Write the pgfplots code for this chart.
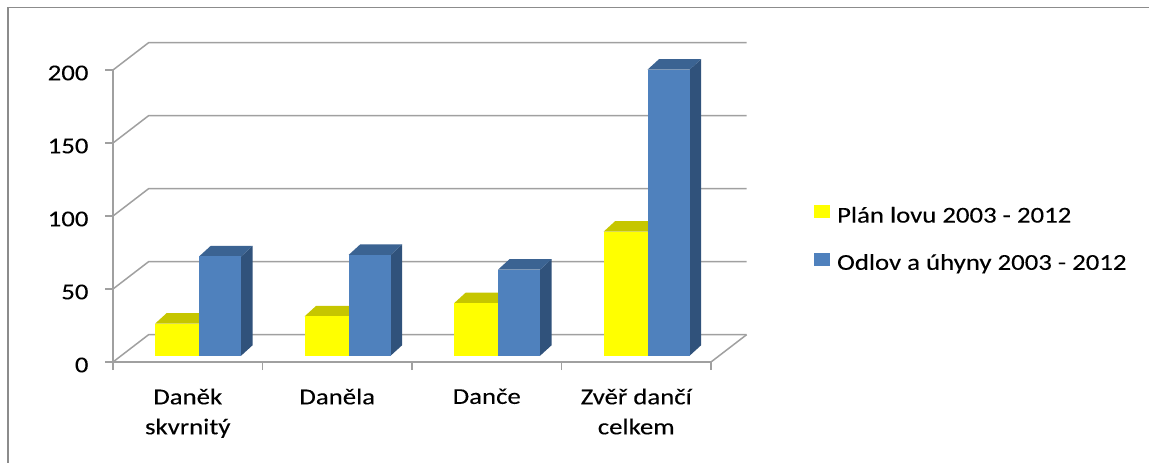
\documentclass[border=0pt]{standalone}
\usepackage{pgfplots}
\pgfplotsset{compat=1.18}
\usepackage{pgfplotstable}
\usepackage{fontspec}
\setmainfont{Carlito}[FakeStretch=1.18, FakeBold=0.15]

\definecolor{planfront}{HTML}{FFFF00}
\definecolor{plantop}{HTML}{C6C600}
\definecolor{planside}{HTML}{A8A800}
\definecolor{odlovfront}{HTML}{4F81BD}
\definecolor{odlovtop}{HTML}{3B6392}
\definecolor{odlovside}{HTML}{30527B}
\definecolor{gridc}{HTML}{A0A0A0}
\definecolor{framec}{HTML}{8C8C8C}

% plan of culling vs. actual culling and losses, 2003 - 2012
\pgfplotstableread{
idx plan odlov
0   22   68
1   27   69
2   36   59
3   85   196
}\lovtable

% depth of the side wall / floor and of the bars (axis units)
\def\wallDx{0.238}
\def\wallDy{18.7}
\def\barDx{0.077}
\def\barDy{7.2}
\def\barBase{4.3}
% horizontal position of the bar faces inside one category
\def\yL{0.282}
\def\yR{0.576}
\def\bR{0.857}

% one box: front, top and right side face
% #1 left x, #2 right x, #3 value, #4 front, #5 top, #6 side colour
\newcommand\drawbox[6]{%
  \pgfmathsetmacro\bxa{#1}\pgfmathsetmacro\bxb{#2}%
  \pgfmathsetmacro\bya{\barBase}\pgfmathsetmacro\byb{\barBase+#3}%
  \pgfmathsetmacro\bxc{\bxa+\barDx}\pgfmathsetmacro\bxd{\bxb+\barDx}%
  \pgfmathsetmacro\byc{\byb+\barDy}\pgfmathsetmacro\bye{\bya+\barDy}%
  \edef\doit{%
    \noexpand\addplot[draw=none,fill=#6,forget plot] coordinates
      {(\bxb,\bya) (\bxd,\bye) (\bxd,\byc) (\bxb,\byb)} -- cycle;
    \noexpand\addplot[draw=none,fill=#5,forget plot] coordinates
      {(\bxa,\byb) (\bxb,\byb) (\bxd,\byc) (\bxc,\byc)} -- cycle;
    \noexpand\addplot[draw=none,fill=#4,forget plot] coordinates
      {(\bxa,\bya) (\bxb,\bya) (\bxb,\byb) (\bxa,\byb)} -- cycle;
  }\doit
}

\newcommand\lblfont{\fontsize{22.7}{30}\selectfont}

\begin{document}
\begin{tikzpicture}
\useasboundingbox (0,0) rectangle (1149pt,463pt);
\draw[framec, line width=1.5pt] (8pt,-3pt) -- (8pt,455.5pt) -- (1153pt,455.5pt);
\begin{axis}[
  at={(113pt,101pt)}, anchor=south west,
  scale only axis, width=598pt, height=292pt,
  xmin=0, xmax=4, ymin=0, ymax=200,
  clip=false,
  axis x line*=bottom, axis y line*=left,
  axis line style={-, draw=gridc, line width=1.5pt},
  xtick={0,1,2,3,4},
  x tick label as interval,
  xticklabels={{Daněk\\skvrnitý},{Daněla},{Danče},{Zvěř dančí\\celkem}},
  ytick={0,50,...,200},
  tick align=outside,
  major tick length=8pt,
  tick style={draw=gridc, line width=1.5pt},
  ticklabel style={font=\lblfont},
  xticklabel style={align=center, yshift=-15pt},
  yticklabel style={xshift=-13pt, yshift=-3pt},
  /pgf/number format/assume math mode=true,
  legend cell align=left,
  legend style={draw=none, fill=none, at={(axis cs:4.689,107.4)}, anchor=north west,
    inner sep=0pt, row sep=25pt, font=\lblfont,
    nodes={inner sep=0pt, text height=16pt, text depth=5pt},
    /tikz/every odd column/.append style={column sep=8pt}},
]
% side wall and back wall grid
\pgfplotsinvokeforeach{0,50,100,150,200}{
  \draw[gridc, line width=1.5pt] (axis cs:0,#1) -- (axis cs:\wallDx,#1+\wallDy)
     -- (axis cs:4+\wallDx,#1+\wallDy);
}
\draw[gridc, line width=1.5pt] (axis cs:4,0) -- (axis cs:4+\wallDx,\wallDy);

\addlegendimage{legend image code/.code={\fill[planfront] (0pt,-0.5pt) rectangle (14.5pt,11.5pt);}}
\addlegendentry{Plán lovu 2003 - 2012}
\addlegendimage{legend image code/.code={\fill[odlovfront] (0pt,-0.5pt) rectangle (14.5pt,11.5pt);}}
\addlegendentry{Odlov a úhyny 2003 - 2012}

\pgfplotsinvokeforeach{0,1,2,3}{
  \pgfplotstablegetelem{#1}{plan}\of\lovtable
  \let\vplan\pgfplotsretval
  \pgfplotstablegetelem{#1}{odlov}\of\lovtable
  \let\vodlov\pgfplotsretval
  \drawbox{#1+\yL}{#1+\yR}{\vplan}{planfront}{plantop}{planside}
  \drawbox{#1+\yR}{#1+\bR}{\vodlov}{odlovfront}{odlovtop}{odlovside}
}
\end{axis}
\end{tikzpicture}
\end{document}
